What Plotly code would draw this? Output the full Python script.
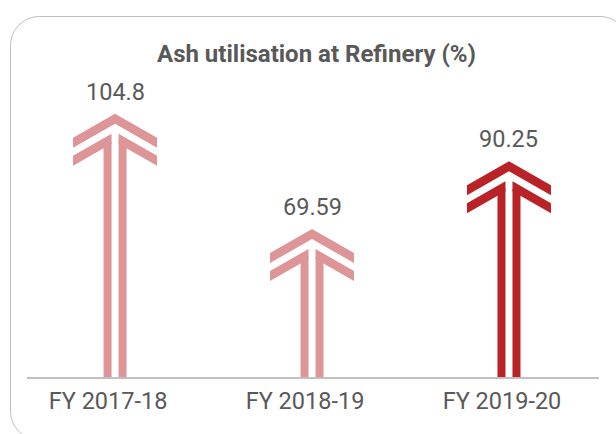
import plotly.graph_objects as go

# values
years = ["FY 2017-18", "FY 2018-19", "FY 2019-20"]
ash_util = [104.8, 69.59, 90.25]

# styling
arrow_colors = ["#dd9598", "#dd9598", "#b92227"]
text_color = "#595959"
font_name = "Roboto"

W, H = 616, 434
M_L, M_R, M_T, M_B = 27, 17, 60, 57
X_RANGE = [-0.447, 2.457]
Y_RANGE = [24.4, 121.2]

plot_w = W - M_L - M_R
plot_h = H - M_T - M_B
# data units per screen pixel
sx = (X_RANGE[1] - X_RANGE[0]) / plot_w
sy = (Y_RANGE[1] - Y_RANGE[0]) / plot_h

# arrow head geometry in pixels, measured down from the tip
HALF_W = 42
RISE = 24
THICK = 10
SHIFT = 18
GAP = 3.5
LINE_W = 8
STEM_TOP = 28


def head_polys(i, v):
    # top chevron (solid) and the two arms of the second chevron
    top = [(0, 0), (HALF_W, RISE), (HALF_W, RISE + THICK), (0, THICK),
           (-HALF_W, RISE + THICK), (-HALF_W, RISE)]
    slope = RISE / HALF_W
    y_in = SHIFT + slope * GAP
    left = [(-HALF_W, SHIFT + RISE), (-GAP, y_in), (-GAP, y_in + THICK),
            (-HALF_W, SHIFT + RISE + THICK)]
    right = [(-x, y) for x, y in left]
    xs, ys = [], []
    for poly in (top, left, right):
        for dx, dy in poly:
            xs.append(i + dx * sx)
            ys.append(v - dy * sy)
        xs.append(i + poly[0][0] * sx)
        ys.append(v - poly[0][1] * sy)
        xs.append(None)
        ys.append(None)
    return xs, ys


fig = go.Figure()

# arrow stems: two thin bars per year
stem_h = [v - STEM_TOP * sy for v in ash_util]
for off in (-(GAP + LINE_W) * sx, GAP * sx):
    fig.add_trace(go.Bar(x=list(range(len(years))), y=stem_h, width=LINE_W * sx,
                         offset=off, marker=dict(color=arrow_colors, line=dict(width=0)),
                         hoverinfo="skip"))

# arrow heads
for i, v in enumerate(ash_util):
    xs, ys = head_polys(i, v)
    fig.add_trace(go.Scatter(x=xs, y=ys, mode="lines", fill="toself",
                             fillcolor=arrow_colors[i],
                             line=dict(width=0, color=arrow_colors[i]),
                             hoverinfo="skip"))

# value labels
for i, v in enumerate(ash_util):
    fig.add_annotation(x=i, y=v, text=str(v), showarrow=False, yanchor="middle",
                       yshift=22, font=dict(family=font_name, size=23.5, color=text_color))


def px(x):
    return (x - M_L) / plot_w


def py(y):
    return (M_T + plot_h - y) / plot_h


fig.add_annotation(xref="paper", yref="paper", x=px(316), y=py(54),
                   text="<b>Ash utilisation at Refinery (%)</b>", showarrow=False,
                   xanchor="center", yanchor="middle",
                   font=dict(family=font_name, size=24, color=text_color))

# rounded card border
L, T, R, B, r = 10.5, 16.5, 629, 440, 29
k = 0.5523 * r
pts = [("M", [(L + r, T)]), ("L", [(R - r, T)]),
       ("C", [(R - r + k, T), (R, T + r - k), (R, T + r)]), ("L", [(R, B - r)]),
       ("C", [(R, B - r + k), (R - r + k, B), (R - r, B)]), ("L", [(L + r, B)]),
       ("C", [(L + r - k, B), (L, B - r + k), (L, B - r)]), ("L", [(L, T + r)]),
       ("C", [(L, T + r - k), (L + r - k, T), (L + r, T)])]
path = ""
for cmd, coords in pts:
    path += cmd + " " + " ".join(f"{px(a):.4f},{py(b):.4f}" for a, b in coords) + " "
path += "Z"
fig.add_shape(type="path", path=path, xref="paper", yref="paper",
              line=dict(color="#bdbdbd", width=1), layer="below")

fig.update_layout(
    width=W, height=H,
    margin=dict(l=M_L, r=M_R, t=M_T, b=M_B),
    paper_bgcolor="white", plot_bgcolor="white",
    barmode="overlay", showlegend=False, hovermode=False,
    font=dict(family=font_name, color=text_color),
)
fig.update_xaxes(range=X_RANGE, tickvals=list(range(len(years))), ticktext=years,
                 showgrid=False, zeroline=False, showline=True, linecolor="#c0c0c0",
                 linewidth=1.5, ticks="", ticklabelshift=-7, ticklabelstandoff=2,
                 tickfont=dict(family=font_name, size=23.5, color=text_color))
fig.update_yaxes(range=Y_RANGE, visible=False)

# page body has an 8px default margin; drop it so the figure sits at 0,0
fig.write_html("out.html", config={"displayModeBar": False},
               post_script="document.body.style.margin='0';")
